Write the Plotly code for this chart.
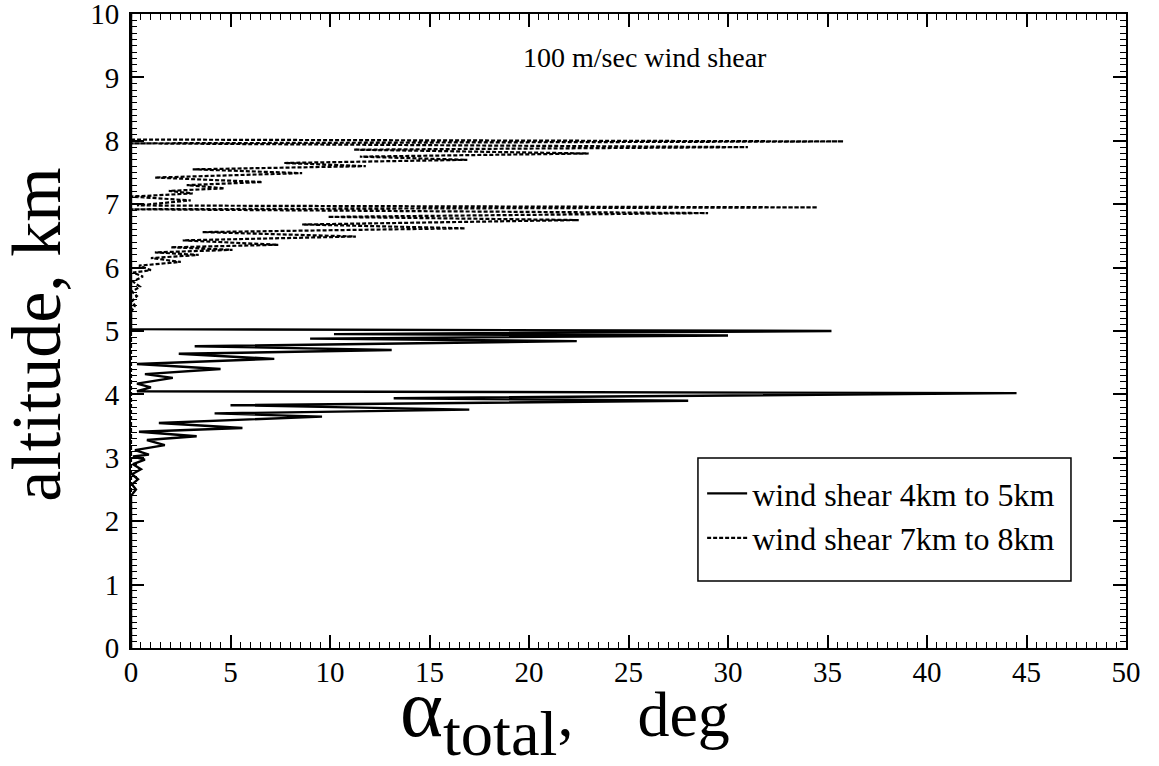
import plotly.graph_objects as go

# ---- data ----
# wind shear 4 km to 5 km (solid): alpha_total [deg] vs altitude [km]
solid_alpha = [0.0, 0.0, 0.25, 0.05, 0.35, 0.05, 0.5, 0.1, 0.7, 0.1, 0.9, 0.2, 1.7, 0.8,
               3.3, 0.4, 5.6, 1.4, 9.6, 4.2, 17.0, 5.0, 28.0, 13.2, 44.5, 0.3,
               1.0, 0.3, 2.1, 0.7, 4.5, 0.3, 7.2, 2.4, 13.1, 3.2, 22.4, 9.0, 30.0, 10.2,
               35.2, 0.0, 0.0]
solid_alt = [0.0, 2.40, 2.50, 2.58, 2.66, 2.74, 2.82, 2.90, 2.97, 3.02, 3.05, 3.12, 3.20, 3.28,
             3.34, 3.41, 3.47, 3.55, 3.65, 3.70, 3.76, 3.83, 3.90, 3.94, 4.02, 4.05,
             4.11, 4.17, 4.26, 4.32, 4.40, 4.48, 4.56, 4.64, 4.70, 4.76, 4.84, 4.88, 4.93, 4.95,
             5.00, 5.03, 10.0]

# wind shear 7 km to 8 km (dashed)
dashed_alpha = [0.0, 0.0, 0.2, 0.05, 0.3, 0.05, 0.45, 0.1, 0.6, 0.1, 1.0, 0.4, 2.5, 1.0,
                3.4, 1.2, 5.1, 2.0, 7.4, 2.6, 11.3, 3.6, 16.8, 8.6, 22.5, 9.9, 29.0, 0.0,
                34.5, 0.3, 3.0, 0.0, 3.1, 1.9, 4.7, 2.8, 6.6, 1.2, 8.6, 3.1, 11.8, 7.7,
                16.9, 11.5, 23.0, 11.2, 31.0, 0.0, 35.8, 0.0, 0.0]
dashed_alt = [0.0, 5.30, 5.40, 5.47, 5.55, 5.62, 5.70, 5.78, 5.86, 5.92, 5.96, 6.03, 6.09, 6.15,
              6.20, 6.24, 6.28, 6.32, 6.36, 6.43, 6.49, 6.56, 6.62, 6.68, 6.75, 6.80, 6.86, 6.92,
              6.95, 6.98, 7.06, 7.12, 7.17, 7.21, 7.25, 7.30, 7.35, 7.42, 7.49, 7.55, 7.60, 7.65,
              7.70, 7.75, 7.80, 7.86, 7.90, 7.96, 7.99, 8.02, 10.0]

x_ticks = [0, 5, 10, 15, 20, 25, 30, 35, 40, 45, 50]
y_ticks = [0, 1, 2, 3, 4, 5, 6, 7, 8, 9, 10]

series_names = ["wind shear 4km to 5km", "wind shear 7km to 8km"]
chart_title = "100 m/sec wind shear"
x_title = ("<span style='font-size:82px'>α</span><sub>total</sub>"
           "<span style='font-size:64px'>,&nbsp;&nbsp;&nbsp; deg</span>")
y_title = "altitude, km"

FONT = "Liberation Serif"

fig = go.Figure()
fig.add_trace(go.Scatter(x=solid_alpha, y=solid_alt, mode="lines", name=series_names[0],
                         line=dict(color="black", width=2.4)))
fig.add_trace(go.Scatter(x=dashed_alpha, y=dashed_alt, mode="lines", name=series_names[1],
                         line=dict(color="black", width=2.2, dash="4px,2px")))

axis_common = dict(showline=True, linecolor="black", linewidth=2, mirror="allticks",
                   ticks="inside", ticklen=13, tickwidth=1.5, tickcolor="black",
                   showgrid=False, zeroline=False, automargin=False,
                   ticklabeloverflow="allow",
                   tickfont=dict(family=FONT, size=29, color="black"))

fig.update_xaxes(range=[0, 50], tickvals=x_ticks, ticklabelstandoff=-3,
                 minor=dict(ticks="inside", ticklen=6, dtick=0.5, tickcolor="black", tickwidth=1.2),
                 **axis_common)
fig.update_yaxes(range=[0, 10], tickvals=y_ticks, ticklabelstandoff=4,
                 minor=dict(ticks="inside", ticklen=6, dtick=0.1, tickcolor="black", tickwidth=1.2),
                 **axis_common)

fig.add_annotation(text=y_title, xref="paper", yref="paper", x=-0.095, y=0.495,
                   textangle=-90, xanchor="center", yanchor="middle", showarrow=False,
                   font=dict(family=FONT, size=70, color="black"))
fig.add_annotation(text=chart_title, xref="paper", yref="paper", x=0.517, y=0.932,
                   xanchor="center", yanchor="middle",
                   showarrow=False, font=dict(family=FONT, size=28, color="black"))
fig.add_annotation(text=x_title, xref="paper", yref="paper", x=0.436, y=-0.108,
                   xanchor="center", yanchor="middle", showarrow=False,
                   font=dict(family=FONT, size=92, color="black"))

# legend frame (reference box)
fig.add_shape(type="rect", xref="paper", yref="paper",
              x0=0.5698, x1=0.9447, y0=0.1057, y1=0.2997,
              line=dict(color="black", width=1.5), fillcolor="white", layer="above")

fig.update_layout(
    width=1159, height=766,
    margin=dict(l=131, r=33, t=14, b=118),
    paper_bgcolor="white", plot_bgcolor="white",
    showlegend=True,
    legend=dict(x=0.574, y=0.287, xanchor="left", yanchor="top",
                borderwidth=0, bgcolor="rgba(0,0,0,0)",
                font=dict(family=FONT, size=32, color="black"),
                itemwidth=40),
)

fig.write_html("out.html", config={"displayModeBar": False},
               post_script="document.body.style.margin='0px';")
